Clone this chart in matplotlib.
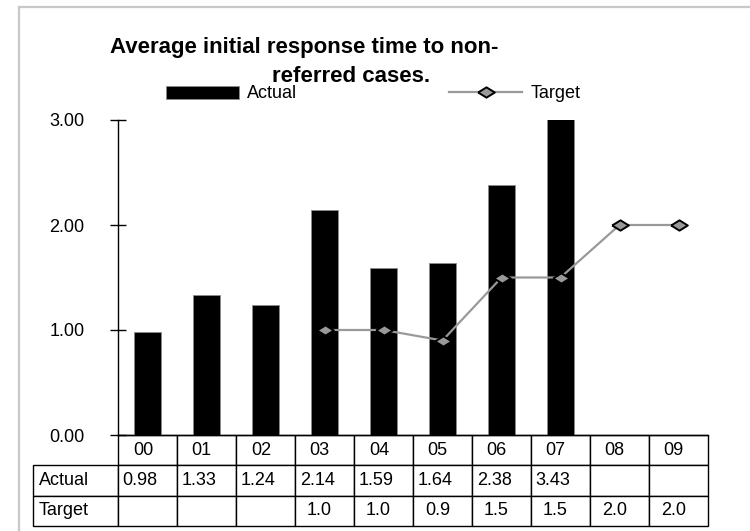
import numpy as np
import matplotlib
matplotlib.use("Agg")
import matplotlib.pyplot as plt
from matplotlib.patches import Rectangle
from matplotlib.lines import Line2D

plt.rcParams['font.family'] = ['Liberation Sans', 'DejaVu Sans']

# data
years = ["00", "01", "02", "03", "04", "05", "06", "07", "08", "09"]
actual = [0.98, 1.33, 1.24, 2.14, 1.59, 1.64, 2.38, 3.43, None, None]
target = [None, None, None, 1.0, 1.0, 0.9, 1.5, 1.5, 2.0, 2.0]
row_names = ["Actual", "Target"]
yticks = [0.0, 1.0, 2.0, 3.0]

W, H = 750, 531
FS = 13
fig = plt.figure(figsize=(W / 100, H / 100), dpi=100)

# light grey chart frame (runs off the right and bottom edges)
fig.patches.append(Rectangle((19 / W, -0.1), 1.2, 1.1 - 7 / H,
                             transform=fig.transFigure, fill=False,
                             edgecolor="#c8c8c8", lw=1.6))

ax = fig.add_axes([118 / W, 1 - 435 / H, 590 / W, 315 / H])

x = np.arange(len(years))
act = np.array([np.nan if v is None else v for v in actual])
tgt = np.array([np.nan if v is None else v for v in target])

ax.bar(x, act, width=0.46, color="black", edgecolor="#8c8c8c", lw=0.6, zorder=2)

# wide, flat diamond marker
diamond = [(-1, 0), (0, 0.62), (1, 0), (0, -0.62), (-1, 0)]
ax.plot(x, tgt, color="#999999", lw=1.6, marker=diamond, markersize=12,
        markerfacecolor="#999999", markeredgecolor="black",
        markeredgewidth=1.4, zorder=3)

ax.set_xlim(-0.5, len(years) - 0.5)
ax.set_ylim(0, 3)
ax.set_yticks(yticks)
ax.set_yticklabels([f"{v:.2f}" for v in yticks], fontsize=FS)
ax.tick_params(axis="y", direction="inout", length=12, width=1, pad=18)
ax.set_xticks([])
for s in ("top", "right"):
    ax.spines[s].set_visible(False)
ax.spines["left"].set_linewidth(1)
ax.spines["bottom"].set_linewidth(1)

# data table under the plot; first column holds the row names
fmt_act = ["" if v is None else f"{v:.2f}" for v in actual]
fmt_tgt = ["" if v is None else f"{v:.1f}" for v in target]
cells = [[row_names[0]] + fmt_act, [row_names[1]] + fmt_tgt]
label_w = 85 / 590
tbl = ax.table(cellText=cells, colLabels=[""] + years, cellLoc="left",
               colLoc="left", colWidths=[label_w] + [0.1] * len(years),
               bbox=[-label_w, -91 / 315, 1 + label_w, 91 / 315])
tbl.auto_set_font_size(False)
tbl.set_fontsize(FS)
for (r, c), cell in tbl.get_celld().items():
    cell.set_linewidth(1)
    cell.set_edgecolor("black")
    if r == 0 and c == 0:
        cell.visible_edges = "open"
    elif r == 0:
        cell.PAD = 0.25
    elif c == 0:
        cell.PAD = 0.07
    elif r == 1:
        cell.PAD = 0.08
    else:
        cell.PAD = 0.2

# title, two lines
fig.text(110 / W, 1 - 53 / H, "Average initial response time to non-",
         fontsize=16, fontweight="bold", ha="left", va="baseline")
fig.text(272 / W, 1 - 82 / H, "referred cases.",
         fontsize=16, fontweight="bold", ha="left", va="baseline")

# legend across the top
h_act = Rectangle((0, 0), 1, 1, facecolor="black", edgecolor="#8c8c8c", lw=0.6)
h_tgt = Line2D([], [], color="#999999", lw=1.6, marker=diamond, markersize=12,
               markerfacecolor="#999999", markeredgecolor="black", markeredgewidth=1.4)
fig.legend([h_act, h_tgt], row_names, loc="center left",
           bbox_to_anchor=(166 / W, 1 - 94 / H), ncol=2, frameon=False,
           fontsize=FS, handlelength=4.05, handleheight=0.72, handletextpad=0.45,
           columnspacing=8.4, borderpad=0, borderaxespad=0, numpoints=1)

fig.savefig("out.png", dpi=100)
